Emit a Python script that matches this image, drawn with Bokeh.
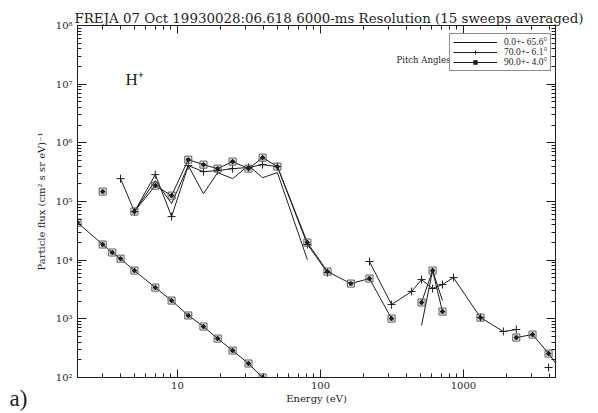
from bokeh.plotting import figure
from bokeh.models import (LogAxis, LogTicker, CustomJSTickFormatter, Label,
                          Legend, LegendItem, Range1d)
from bokeh.embed import file_html
from bokeh.resources import INLINE

nan = float("nan")

# energies (eV) of the averaged spectrum
energy = [3, 4, 5, 7, 9.1, 11.9, 15.2, 19.1, 24.3, 31.4, 39.4, 50, 81, 112,
          163, 220, 314, 434, 509, 608, 713, 851, 1315, 1900, 2340, 3040,
          3935, 5000]
# pitch angle 0.0 +- 65.6
flux_0 = [nan, nan, 67300, 227000, 92000, 409000, 136000, 311000, 245000,
          409000, 255000, 311000, 10200, nan, nan, nan, nan, nan, 769, 6650,
          2050, nan, nan, nan, nan, nan, nan, nan]
# pitch angle 70.0 +- 6.1
flux_70 = [nan, 245000, 67300, 287000, 55300, 409000, 323000, 336000, 363000,
           380000, 425000, 393000, 18500, 6140, nan, 9470, 1750, 2920, 4670,
           3280, 3840, 5050, 1050, 608, 657, nan, 148, nan]
# pitch angle 90.0 +- 4.0
flux_90 = [147600, nan, 67300, 186600, 126000, 517000, 425000, 363000, 479000,
           363000, 560000, 393000, 19950, 6390, 3990, 4860, 1010, nan, 1900,
           6650, 1330, nan, 1050, nan, 480, 540, 256, 117]
# one-count level
low_energy = [2, 3, 3.5, 4, 5, 7, 9.1, 11.9, 15.2, 19.1, 24.3, 31.4, 39.4]
low_flux = [43600, 18500, 13500, 10600, 6650, 3410, 2050, 1140, 740, 461,
            288, 173, 100]

legend_labels = ["0.0+- 65.6\u00b0", "70.0+- 6.1\u00b0", "90.0+- 4.0\u00b0"]
title_text = "FREJA  07 Oct 19930028:06.618 6000-ms Resolution (15 sweeps averaged)"

SERIF = "DejaVu Serif"
INK = "#1e1e1e"

p = figure(width=598, height=413, x_axis_type="log", y_axis_type="log",
           x_range=Range1d(2, 4400), y_range=Range1d(1e2, 1e8),
           output_backend="svg", toolbar_location=None,
           min_border_left=77, min_border_right=43, min_border_top=25,
           min_border_bottom=36)
p.grid.visible = False
p.outline_line_color = INK
p.background_fill_color = "white"
p.border_fill_color = "white"

p.title.text = title_text
p.title.align = "left"
p.title.offset = -3
p.title.standoff = 0
p.title.text_font = SERIF
p.title.text_font_size = "13.4px"
p.title.text_font_style = "normal"
p.title.text_color = INK

sup_code = """
const sup = {'0':'\u2070','1':'\u00b9','2':'\u00b2','3':'\u00b3','4':'\u2074',
             '5':'\u2075','6':'\u2076','7':'\u2077','8':'\u2078','9':'\u2079','-':'\u207b'};
const e = Math.round(Math.log10(tick));
return '10' + String(e).split('').map(c => sup[c]).join('');
"""

def style_axis(ax, major_in, minor_in):
    ax.major_tick_out = 0
    ax.minor_tick_out = 0
    ax.major_tick_in = major_in
    ax.minor_tick_in = minor_in
    ax.axis_line_color = INK
    ax.major_tick_line_color = INK
    ax.minor_tick_line_color = INK
    ax.major_label_text_font = SERIF
    ax.major_label_text_font_size = "10px"
    ax.major_label_text_color = INK
    ax.axis_label_text_font = SERIF
    ax.axis_label_text_font_size = "10px"
    ax.axis_label_text_font_style = "normal"
    ax.axis_label_text_color = INK

xa = p.xaxis[0]
xa.ticker = LogTicker(num_minor_ticks=10)
xa.formatter = CustomJSTickFormatter(code="return tick.toFixed(0);")
style_axis(xa, 8, 4)
xa.axis_label = "Energy (eV)"
xa.major_label_standoff = 4
xa.axis_label_standoff = 1

ya = p.yaxis[0]
ya.ticker = LogTicker(num_minor_ticks=10)
ya.formatter = CustomJSTickFormatter(code=sup_code)
style_axis(ya, 9, 4)
ya.axis_label = "Particle flux (cm\u00b2 s sr eV)\u207b\u00b9"
ya.major_label_standoff = 5
ya.axis_label_standoff = 6

top = LogAxis(ticker=LogTicker(num_minor_ticks=10),
              formatter=CustomJSTickFormatter(code="return '';"))
style_axis(top, 8, 4)
top.major_label_standoff = 0
p.add_layout(top, "above")
right = LogAxis(ticker=LogTicker(num_minor_ticks=10),
                formatter=CustomJSTickFormatter(code="return '';"))
style_axis(right, 9, 4)
p.add_layout(right, "right")

# one-count level
p.line(low_energy, low_flux, line_color=INK, line_width=1)
p.scatter(low_energy, low_flux, marker="square", size=7, fill_color=None,
          line_color="#555555", line_width=1)
p.scatter(low_energy, low_flux, marker="asterisk", size=5, line_color=INK,
          line_width=1.2)

r0 = p.line(energy, flux_0, line_color=INK, line_width=1)
r70l = p.line(energy, flux_70, line_color=INK, line_width=1)
r70m = p.scatter(energy, flux_70, marker="cross", size=8, line_color=INK,
                 line_width=1)
r90l = p.line(energy, flux_90, line_color=INK, line_width=1)
r90s = p.scatter(energy, flux_90, marker="square", size=7, fill_color=None,
                 line_color="#555555", line_width=1)
r90a = p.scatter(energy, flux_90, marker="asterisk", size=5, line_color=INK,
                 line_width=1.2)

legend = Legend(items=[
    LegendItem(label=legend_labels[0], renderers=[r0]),
    LegendItem(label=legend_labels[1], renderers=[r70l, r70m]),
    LegendItem(label=legend_labels[2], renderers=[r90l, r90s, r90a]),
], location=(372, 306))
legend.glyph_width = 44
legend.glyph_height = 10
legend.label_height = 10
legend.label_standoff = 7
legend.padding = 3
legend.spacing = 0
legend.margin = 0
legend.label_text_font = "Liberation Serif"
legend.label_text_font_size = "9.5px"
legend.label_text_color = INK
legend.border_line_color = INK
legend.border_line_width = 1
legend.background_fill_color = "white"
legend.background_fill_alpha = 1
p.add_layout(legend, "center")

p.add_layout(Label(x=319, y=318, x_units="screen", y_units="screen",
                   text="Pitch Angles", text_align="left",
                   text_baseline="middle", text_font=SERIF,
                   text_font_size="8.5px", text_color=INK))
p.add_layout(Label(x=48, y=298, x_units="screen", y_units="screen",
                   text="H\u207a", text_align="left",
                   text_baseline="middle", text_font="Liberation Serif",
                   text_font_size="17px", text_color=INK))
p.add_layout(Label(x=-5, y=-21, x_units="screen", y_units="screen",
                   text="a)", text_align="left",
                   text_baseline="middle", text_font="Liberation Serif",
                   text_font_size="23px", text_color=INK), "left")

open("out.html", "w", encoding="utf-8").write(file_html(p, INLINE))
